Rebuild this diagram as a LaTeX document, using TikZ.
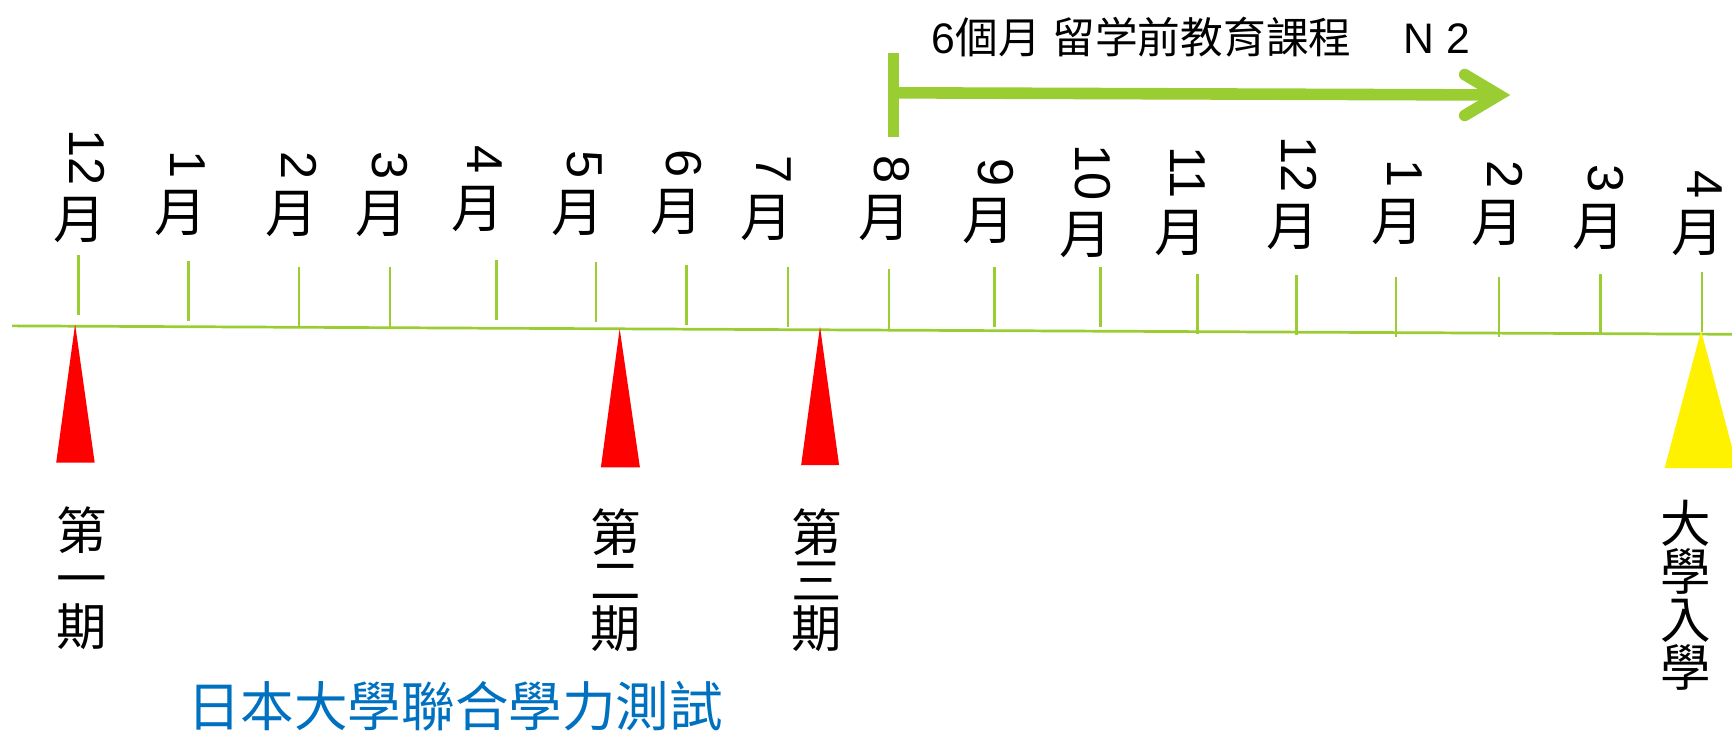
\documentclass[tikz,border=0pt]{standalone}
\usepackage{fontspec}
\setmainfont{Liberation Sans}
\newfontfamily\cjk{Noto Sans CJK TC}
\usepackage{tikz}
\usetikzlibrary{calc}
\definecolor{leaf}{RGB}{154,205,50}
\definecolor{testblue}{RGB}{0,112,192}
\setlength{\lineskiplimit}{-30pt}
\tikzset{
  axis/.style={leaf, line width=1.4pt},
  tick/.style={leaf, line width=1.2pt},
  monthchar/.style={font=\cjk\fontsize{27}{30}\selectfont, inner sep=0pt, anchor=south},
  monthnum/.style={font=\fontsize{26}{30}\selectfont, inner sep=0pt, rotate=-90, anchor=east},
  vlabel/.style={font=\cjk\fontsize{26}{24.8}\selectfont, inner sep=0pt, align=center, anchor=north},
  flag/.style={fill=red},
  goal/.style={fill=yellow},
  course/.style={leaf, line width=0.21cm}
}
\begin{document}
\begin{tikzpicture}[x=0.02cm,y=-0.02cm]
\useasboundingbox (0,0) rectangle (1568,664);
\coordinate (start) at (11,295);
\coordinate (end) at (1568,302.6);
\draw[axis] (start) -- (end); % time line
\foreach \tx/\ty/\lx/\lb/\d [count=\i] in {
  71/231/72.4/220.3/12, 170.7/236/163.6/214/1, 270.8/241.4/264.5/214.8/2,
  353.3/241.4/346/214.8/3, 449.6/235.3/432.6/209.7/4, 539.6/236.8/523/214/5,
  621.4/239.8/613/212.7/6, 713.6/241.4/693.8/218.7/7, 804.6/243.5/801/218.7/8,
  900.2/241.7/894.7/221/9, 996.2/241.4/983/233.8/10, 1084/248.3/1069/232.3/11,
  1173.8/248.9/1170/226.2/12, 1263.7/250.4/1265.7/221.7/1, 1357.3/251/1356/223.2/2,
  1448.8/248.3/1447/226.2/3, 1541/245.9/1537/232.3/4}
{
  \draw[tick] (\tx,\ty) -- ++(0,54.5); % tick
  \node[monthchar] (m\i) at (\lx,\lb) {月};
  \node[monthnum] (n\i) at ([xshift=0.13cm,yshift=0.2cm]m\i.north) {\d};
}
\fill[flag] (68,293.5) -- (50.9,418.7) -- (85.7,418.7) -- cycle; % first test
\fill[flag] (561,297.7) -- (544,423) -- (579.3,423) -- cycle; % second test
\fill[flag] (742.4,295.6) -- (725.3,421) -- (759.6,421) -- cycle; % third test
\fill[goal] (1540,299.3) -- (1507,423.8) -- (1573,423.8) -- cycle; % entrance
\node[vlabel] (p1) at (74,458.5) {第\\一\\期};
\node[vlabel] (p2) at (557,460) {第\\二\\期};
\node[vlabel] (p3) at (739,460) {第\\三\\期};
\node[vlabel] (entry) at (1526.5,452.5) {大\\學\\入\\學};
\node[font=\cjk\fontsize{27.6}{30}\selectfont, text=testblue] (exam) at (412,639) {日本大學聯合學力測試};
% course arrow
\coordinate (cs) at (809,84);
\coordinate (ce) at (1357,86);
\draw[course] (809,47.7) -- (809,124.3); % bar
\draw[course] (cs) -- (ce);
\draw[course, line cap=round, line join=miter] (1326,67.5) -- (ce) -- (1326,104.5); % head
\node[anchor=base west, inner sep=0pt, font=\fontsize{22}{26}\selectfont] (title) at (843,48.5)
  {6{\cjk 個月} {\cjk 留学前教育課程}\hspace{27pt}N 2};
\end{tikzpicture}
\end{document}
